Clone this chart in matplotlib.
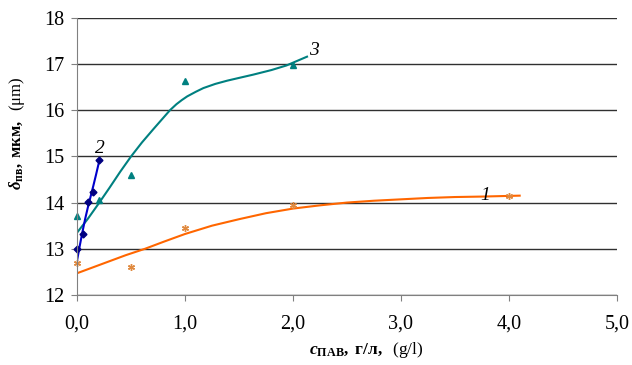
import matplotlib
matplotlib.use("Agg")
import matplotlib.pyplot as plt

plt.rcParams['font.family'] = ['Liberation Serif', 'DejaVu Serif']
plt.rcParams['mathtext.fontset'] = 'custom'
plt.rcParams['mathtext.rm'] = 'Liberation Serif'
plt.rcParams['mathtext.it'] = 'Liberation Serif:italic'
plt.rcParams['mathtext.bf'] = 'Liberation Serif:bold'
plt.rcParams['mathtext.bfit'] = 'Liberation Serif:bold:italic'

# series 1 (orange)
x1 = [0.0, 0.5, 1.0, 2.0, 4.0]
y1 = [12.7, 12.6, 13.45, 13.95, 14.15]
x1_fit = [0.0, 0.15, 0.3, 0.45, 0.63, 0.8, 1.0, 1.25, 1.5, 1.75, 2.0,
          2.25, 2.5, 2.75, 3.0, 3.25, 3.5, 3.75, 4.1]
y1_fit = [12.47, 12.6, 12.73, 12.86, 13.0, 13.15, 13.32, 13.5, 13.64, 13.77, 13.87,
          13.94, 14.0, 14.04, 14.07, 14.1, 14.12, 14.13, 14.15]

# series 2 (blue)
x2 = [0.0, 0.05, 0.1, 0.15, 0.2]
y2 = [13.0, 13.33, 14.02, 14.22, 14.92]
x2_fit = [0.0, 0.025, 0.05, 0.075, 0.1, 0.125, 0.15, 0.175, 0.2]
y2_fit = [12.75, 13.07, 13.37, 13.65, 13.9, 14.13, 14.36, 14.6, 14.85]

# series 3 (teal)
x3 = [0.0, 0.2, 0.5, 1.0, 2.0]
y3 = [13.7, 14.05, 14.6, 16.64, 16.97]
x3_fit = [0.0, 0.1, 0.2, 0.3, 0.4, 0.5, 0.6, 0.71, 0.8, 0.86, 0.92, 0.97, 1.02,
          1.1, 1.17, 1.28, 1.39, 1.5, 1.63, 1.8, 1.94, 2.13]
y3_fit = [13.35, 13.65, 13.98, 14.32, 14.67, 15.0, 15.3, 15.6, 15.84, 16.0, 16.13,
          16.22, 16.3, 16.4, 16.48, 16.57, 16.64, 16.7, 16.77, 16.87, 16.97, 17.16]

xticks = [0, 1, 2, 3, 4, 5]
xtick_labels = ['0,0', '1,0', '2,0', '3,0', '4,0', '5,0']
yticks = [12, 13, 14, 15, 16, 17, 18]

fig = plt.figure(figsize=(6.32, 3.65), dpi=100)
ax = fig.add_axes([0.122, 0.192, 0.854, 0.759])

ax.plot(x1_fit, y1_fit, color='#FF6600', lw=1.5)
ax.plot(x1, y1, ls='none', marker=(6, 2, 0), color='#E08A40', ms=5, mew=1, clip_on=False)
ax.plot(x3_fit, y3_fit, color='#008080', lw=1.5)
ax.plot(x3, y3, ls='none', marker='^', color='#008080', ms=5, clip_on=False)
ax.plot(x2_fit, y2_fit, color='#0000CC', lw=1.5)
ax.plot(x2, y2, ls='none', marker='D', color='#000080', ms=3.5, clip_on=False)

ax.text(3.78, 14.15, '1', fontsize=14, style='italic', va='center', ha='center')
ax.text(0.21, 15.18, '2', fontsize=14, style='italic', va='center', ha='center')
ax.text(2.19, 17.3, '3', fontsize=14, style='italic', va='center', ha='center')

ax.set_xlim(0, 5)
ax.set_ylim(12, 18)
ax.set_xticks(xticks)
ax.set_xticklabels(xtick_labels)
ax.set_yticks(yticks)
ax.tick_params(labelsize=14.5, length=4, color='#808080')
ax.tick_params(axis='x', pad=10)
ax.tick_params(axis='y', pad=5)
ax.yaxis.grid(True, color='#303030', lw=1)
ax.set_axisbelow(True)
for s in ['top', 'right']:
    ax.spines[s].set_visible(False)
for s in ['left', 'bottom']:
    ax.spines[s].set_color('#808080')

ax.set_ylabel(r'$\mathbfit{δ}_{\mathbf{пв}}\mathbf{,\ мкм,}\ \ \mathrm{(μm)}$', fontsize=12)
ax.yaxis.set_label_coords(-0.092, 0.585)
ax.set_xlabel(r'$\mathbfit{c}_{\mathbf{ПАВ}}\mathbf{,\ г/л,}\ \ \mathrm{(g/l)}$', fontsize=12.5)
ax.xaxis.set_label_coords(0.535, -0.235)
ax.xaxis.label.set_verticalalignment('bottom')

fig.savefig('out.png', dpi=100)
